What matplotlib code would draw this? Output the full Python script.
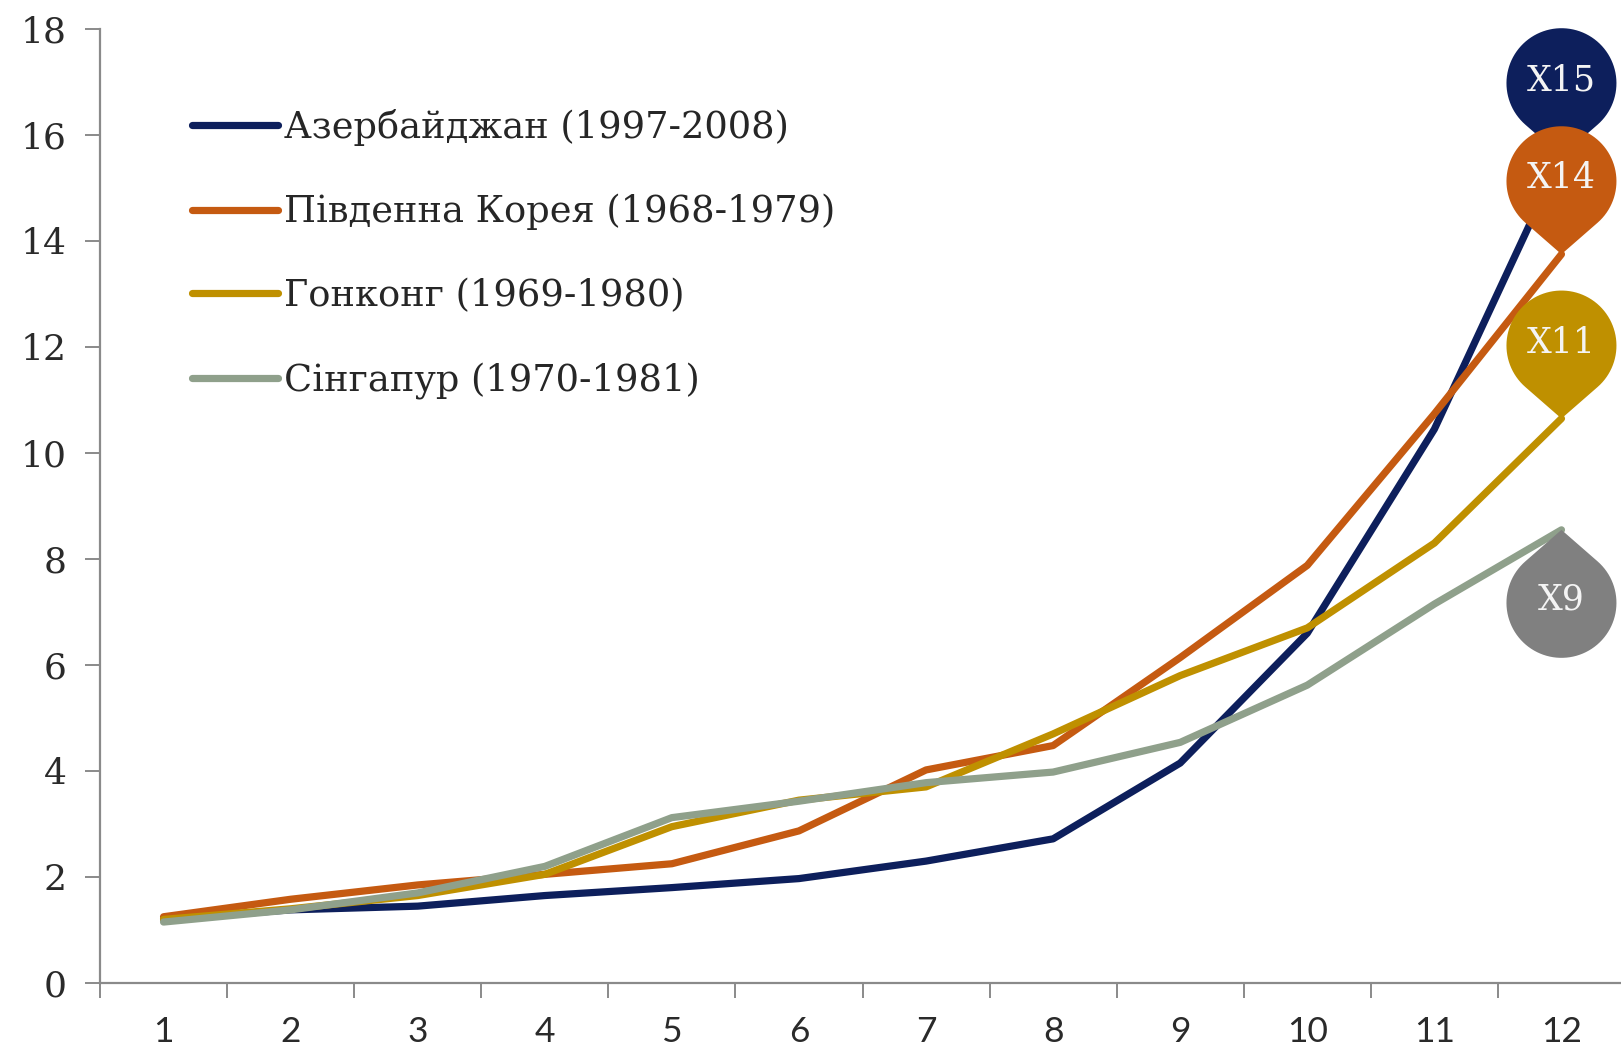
import numpy as np
import matplotlib.pyplot as plt
from matplotlib.patches import Polygon
from matplotlib.transforms import IdentityTransform

# years since start of the period
years = list(range(1, 13))

azerbaijan = [1.20, 1.38, 1.45, 1.65, 1.80, 1.97, 2.30, 2.72, 4.15, 6.60, 10.45, 15.60]
korea = [1.25, 1.58, 1.85, 2.05, 2.25, 2.87, 4.02, 4.48, 6.14, 7.88, 10.74, 13.75]
hongkong = [1.20, 1.40, 1.65, 2.05, 2.95, 3.45, 3.70, 4.70, 5.80, 6.70, 8.30, 10.65]
singapore = [1.15, 1.38, 1.70, 2.20, 3.12, 3.43, 3.78, 3.98, 4.54, 5.62, 7.15, 8.55]

series_labels = ['Азербайджан (1997-2008)', 'Південна Корея (1968-1979)',
                 'Гонконг (1969-1980)', 'Сінгапур (1970-1981)']
line_colors = ['#0d1f5c', '#c55a11', '#bf9000', '#8fa08b']
badge_colors = ['#0d1f5c', '#c55a11', '#bf9000', '#808080']
badge_texts = ['X15', 'X14', 'X11', 'X9']
badge_dirs = [-1, -1, -1, 1]   # -1: badge above point (tip down), 1: badge below

fig = plt.figure(figsize=(16.21, 10.46), dpi=100)
ax = fig.add_axes([100 / 1621, 63 / 1046, 1525 / 1621, 954 / 1046])

data = [azerbaijan, korea, hongkong, singapore]
for vals, lab, col in zip(data, series_labels, line_colors):
    ax.plot(years, vals, color=col, lw=5.2, label=lab,
            solid_joinstyle='round', solid_capstyle='round', zorder=2)

ax.set_xlim(0.5, 12.5)
ax.set_ylim(0, 18)
ax.set_yticks(range(0, 19, 2))
ax.set_xticks(years)
ax.set_xticks(np.arange(0.5, 12.6, 1), minor=True)

for s in ['top', 'right']:
    ax.spines[s].set_visible(False)
for s in ['left', 'bottom']:
    ax.spines[s].set_color('#8a8a8a')
    ax.spines[s].set_linewidth(1.6)

ax.tick_params(axis='y', length=11, width=1.4, color='#8a8a8a', pad=13,
               labelsize=26, labelcolor='#2a2a2a')
ax.tick_params(axis='x', which='major', length=0, pad=24, labelsize=25.5,
               labelcolor='#2a2a2a')
ax.tick_params(axis='x', which='minor', length=11, width=1.4, color='#8a8a8a')
for t in ax.get_yticklabels():
    t.set_fontfamily('DejaVu Serif')
for t in ax.get_xticklabels():
    t.set_fontfamily('Lato')

leg = ax.legend(loc='upper left', bbox_to_anchor=(0.060, 0.916), frameon=False,
                prop={'family': 'DejaVu Serif', 'size': 26.5},
                handlelength=2.34, handletextpad=0.17, labelspacing=1.3,
                borderpad=0, borderaxespad=0)
for t in leg.get_texts():
    t.set_color('#262626')


def teardrop(px, py, r, d, direction):
    # tip at (px, py); circle centre d pixels away
    cx, cy = px, py - direction * d
    tip_ang = np.arctan2(py - cy, px - cx)
    th = np.arccos(r / d)
    angs = np.linspace(tip_ang + th, tip_ang + 2 * np.pi - th, 80)
    pts = [(px, py)] + [(cx + r * np.cos(a), cy + r * np.sin(a)) for a in angs]
    return np.array(pts), (cx, cy)


for vals, col, txt, dr in zip(data, badge_colors, badge_texts, badge_dirs):
    px, py = ax.transData.transform((years[-1], vals[-1]))
    pts, (cx, cy) = teardrop(px, py, 55, 73, dr)
    ax.add_patch(Polygon(pts, closed=True, facecolor=col, edgecolor='none',
                         transform=IdentityTransform(), clip_on=False, zorder=5))
    ax.text(cx, cy + 3, txt, transform=IdentityTransform(), color='#f4f4f4',
            fontsize=25, family='DejaVu Serif', ha='center', va='center', zorder=6)

fig.savefig('out.png', dpi=100)
